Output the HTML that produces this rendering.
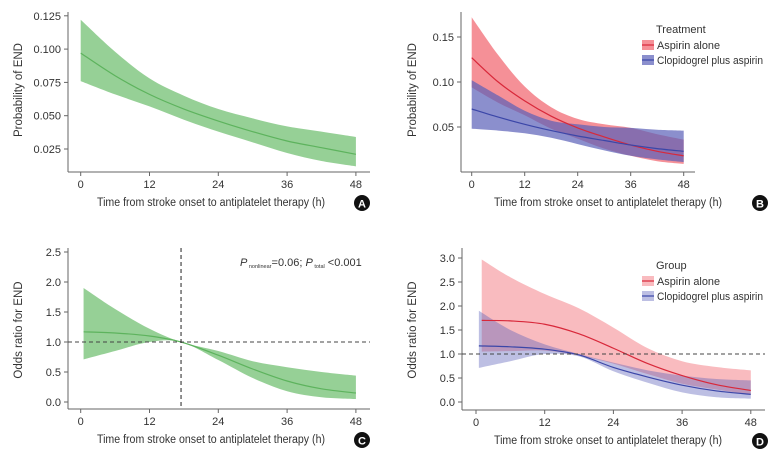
<!DOCTYPE html>
<html><head><meta charset="utf-8"><style>
body{margin:0;background:#fff;}
svg{display:block;font-family:"Liberation Sans",sans-serif;}
text{fill:#333;}
</style></head><body>
<svg id="fig" width="777" height="456" viewBox="0 0 777 456"></svg>
<script>
// Panel A
const hoursA=[0,6,12,18,24,30,36,42,48];
const meanA=[0.097,0.080,0.066,0.055,0.046,0.038,0.031,0.026,0.021];
const upA=[0.122,0.098,0.078,0.065,0.055,0.048,0.042,0.038,0.034];
const loA=[0.076,0.066,0.057,0.047,0.038,0.030,0.022,0.016,0.012];
const yTicksA=[0.025,0.050,0.075,0.100,0.125];
// Panel B
const hoursB=[0,6,12,18,24,30,36,42,48];
const redMeanB=[0.127,0.100,0.079,0.062,0.049,0.039,0.030,0.023,0.018];
const redUpB=[0.172,0.130,0.095,0.072,0.059,0.053,0.049,0.042,0.036];
const redLoB=[0.094,0.077,0.063,0.048,0.037,0.026,0.018,0.012,0.009];
const blueMeanB=[0.070,0.061,0.053,0.046,0.040,0.035,0.030,0.026,0.023];
const blueUpB=[0.102,0.085,0.068,0.057,0.053,0.050,0.049,0.047,0.046];
const blueLoB=[0.048,0.046,0.043,0.038,0.031,0.024,0.018,0.014,0.011];
const yTicksB=[0.05,0.10,0.15];
// Panel C
const hoursC=[0.5,6,12,17.5,24,30,36,42,48];
const meanC=[1.17,1.15,1.10,1.0,0.78,0.55,0.35,0.22,0.15];
const upC=[1.9,1.55,1.22,1.0,0.85,0.68,0.58,0.5,0.44];
const loC=[0.71,0.85,1.0,1.0,0.70,0.40,0.18,0.08,0.05];
const refHourC=17.5;
const yTicksC=[0.0,0.5,1.0,1.5,2.0,2.5];
// Panel D
const hoursDred=[1,6,12,18,24,30,36,42,48];
const redMeanD=[1.70,1.69,1.62,1.42,1.12,0.80,0.55,0.36,0.24];
const redUpD=[2.97,2.6,2.25,1.95,1.55,1.12,0.85,0.73,0.66];
const redLoD=[1.05,1.06,1.07,0.97,0.80,0.58,0.38,0.26,0.15];
const hoursDblue=[0.5,6,12,18,24,30,36,42,48];
const blueMeanD=[1.17,1.15,1.10,0.98,0.72,0.52,0.35,0.23,0.16];
const blueUpD=[1.9,1.5,1.2,1.0,0.82,0.66,0.55,0.48,0.45];
const blueLoD=[0.71,0.85,1.0,0.95,0.64,0.40,0.20,0.10,0.07];
const yTicksD=[0.0,0.5,1.0,1.5,2.0,2.5,3.0];
const xTicks=[0,12,24,36,48];

const NS="http://www.w3.org/2000/svg";
const svg=document.getElementById('fig');
function mk(tag,attrs,parent,txt){const e=document.createElementNS(NS,tag);for(const k in attrs)e.setAttribute(k,attrs[k]);if(txt!==undefined)e.textContent=txt;(parent||svg).appendChild(e);return e;}
function smooth(pts){let d='M'+pts[0][0]+','+pts[0][1];for(let i=0;i<pts.length-1;i++){const p0=pts[i-1]||pts[i],p1=pts[i],p2=pts[i+1],p3=pts[i+2]||p2;
 const c1=[p1[0]+(p2[0]-p0[0])/6,p1[1]+(p2[1]-p0[1])/6],c2=[p2[0]-(p3[0]-p1[0])/6,p2[1]-(p3[1]-p1[1])/6];
 d+=' C'+c1[0]+','+c1[1]+' '+c2[0]+','+c2[1]+' '+p2[0]+','+p2[1];}return d;}
function smoothCont(pts){return smooth(pts).replace(/^M/,'L');}

function panel(p){
 const g=mk('g',{});
 
 
 const X=h=>p.x0+(h)*p.xs, Y=v=>p.y0-(v-p.v0)*p.ys;
 p.X=X;p.Y=Y;
 const ya=mk('line',{x1:p.ax,y1:p.yTop,x2:p.ax,y2:p.ay,stroke:'#666','stroke-width':1},g);
 
 const xa=mk('line',{x1:p.ax,y1:p.ay,x2:p.xEnd,y2:p.ay,stroke:'#666','stroke-width':1},g);
 
 p.yt.forEach(v=>{mk('line',{x1:p.ax-4,y1:Y(v),x2:p.ax,y2:Y(v),stroke:'#666'},g);
  const t=mk('text',{x:p.ax-7,y:Y(v)+4,'text-anchor':'end','font-size':11},g,v.toFixed(p.dec));
  });
 xTicks.forEach(h=>{mk('line',{x1:X(h),y1:p.ay,x2:X(h),y2:p.ay+4,stroke:'#666'},g);
  const t=mk('text',{x:X(h),y:p.ay+16,'text-anchor':'middle','font-size':11},g,String(h));
  });
 const xt=mk('text',{x:p.xlx-114,y:p.ay+34,'font-size':11.5,textLength:228,lengthAdjust:'spacingAndGlyphs'},g,'Time from stroke onset to antiplatelet therapy (h)');
 
 const yt=mk('text',{x:0,y:0,'text-anchor':'middle','font-size':11.5,transform:`translate(${p.ylx},${p.yly}) rotate(-90)`},g,p.ytitle);
 
 const bc=mk('circle',{cx:p.bx,cy:p.ay+31,r:8,fill:'#111'},g);
 
 const bt=mk('text',{x:p.bx,y:p.ay+35.5,'text-anchor':'middle','font-size':11,'font-weight':'bold',style:'fill:#fff'},g,p.letter);
 
 return g;
}
function band(p,g,hrs,up,lo,fill,op,nm){
 const u=hrs.map((h,i)=>[p.X(h),p.Y(up[i])]), l=hrs.map((h,i)=>[p.X(h),p.Y(lo[i])]).reverse();
 const e=mk('path',{d:smooth(u)+' '+smoothCont(l)+' Z',fill:fill,'fill-opacity':op},g);
 
}
function line(p,g,hrs,vals,col,nm){
 const e=mk('path',{d:smooth(hrs.map((h,i)=>[p.X(h),p.Y(vals[i])])),fill:'none',stroke:col,'stroke-width':1.2},g);
 
}
function legend(g,x,y,title,items){
 const lg=mk('g',{},g);
 
 mk('text',{x:x+14,y:y,'font-size':11},lg,title);
 items.forEach((it,i)=>{const yy=y+15*(i+1);
  const s=mk('rect',{x:x,y:yy-8,width:12,height:10,fill:it[1],'fill-opacity':it[3]},lg);
  
  mk('line',{x1:x,y1:yy-3,x2:x+12,y2:yy-3,stroke:it[2],'stroke-width':1.2},lg);
  const t=mk('text',{x:x+15,y:yy+1,'font-size':11,textLength:it[4],lengthAdjust:'spacingAndGlyphs'},lg,it[0]);
  });
}
const GF='#7cc47c',GL='#5db35d',RF='#ef5560',RL='#d8283a',BF='#5a5fb8',BL='#3b46a8';
// A
const A={name:'panel-a',letter:'A',ax:68,ay:172,yTop:12,xEnd:370,x0:80.7,xs:68.8/12,y0:149,v0:0.025,ys:33.3/0.025,yt:yTicksA,dec:3,xlx:211,ylx:22,yly:90,ytitle:'Probability of END',bx:362};
let g=panel(A);band(A,g,hoursA,upA,loA,GF,0.8,'ci-band');line(A,g,hoursA,meanA,GL,'estimate-line');
// B
const B={name:'panel-b',letter:'B',ax:461,ay:172,yTop:12,xEnd:695,x0:471.7,xs:53/12,y0:127,v0:0.05,ys:45/0.05,yt:yTicksB,dec:2,xlx:608,ylx:416,yly:90,ytitle:'Probability of END',bx:760};
g=panel(B);
band(B,g,hoursB,redUpB,redLoB,RF,0.65,'aspirin-ci-band');
band(B,g,hoursB,blueUpB,blueLoB,BF,0.7,'clopidogrel-ci-band');
line(B,g,hoursB,redMeanB,RL,'aspirin-line');line(B,g,hoursB,blueMeanB,BL,'clopidogrel-line');
legend(g,642,33,'Treatment',[['Aspirin alone',RF,RL,0.65,63],['Clopidogrel plus aspirin',BF,BL,0.7,106]]);
// C
const C={name:'panel-c',letter:'C',ax:68,ay:409,yTop:248,xEnd:370,x0:80.7,xs:68.8/12,y0:402,v0:0,ys:30/0.5,yt:yTicksC,dec:1,xlx:211,ylx:22,yly:330,ytitle:'Odds ratio for END',bx:362};
g=panel(C);band(C,g,hoursC,upC,loC,GF,0.8,'ci-band');line(C,g,hoursC,meanC,GL,'or-line');
let r=mk('line',{x1:68,y1:C.Y(1),x2:370,y2:C.Y(1),stroke:'#444','stroke-dasharray':'4,3'},g);

r=mk('line',{x1:C.X(refHourC),y1:248,x2:C.X(refHourC),y2:409,stroke:'#222','stroke-dasharray':'4,3'},g);

const an=mk('text',{x:240,y:266,'font-size':11},g);

an.innerHTML='<tspan font-style="italic">P</tspan><tspan font-size="5.5" dy="2"> nonlinear</tspan><tspan dy="-2">=0.06; </tspan><tspan font-style="italic">P</tspan><tspan font-size="5.5" dy="2"> total</tspan><tspan dy="-2"> &lt;0.001</tspan>';
// D
const D={name:'panel-d',letter:'D',ax:462,ay:410,yTop:248,xEnd:765,x0:476,xs:68.7/12,y0:402,v0:0,ys:24/0.5,yt:yTicksD,dec:1,xlx:608,ylx:416,yly:330,ytitle:'Odds ratio for END',bx:760};
g=panel(D);
band(D,g,hoursDred,redUpD,redLoD,RF,0.4,'aspirin-ci-band');
band(D,g,hoursDblue,blueUpD,blueLoD,BF,0.4,'clopidogrel-ci-band');
line(D,g,hoursDred,redMeanD,RL,'aspirin-line');line(D,g,hoursDblue,blueMeanD,BL,'clopidogrel-line');
r=mk('line',{x1:462,y1:D.Y(1),x2:765,y2:D.Y(1),stroke:'#444','stroke-dasharray':'4,3'},g);

legend(g,642,269,'Group',[['Aspirin alone',RF,RL,0.4,63],['Clopidogrel plus aspirin',BF,BL,0.4,106]]);
</script>
</body></html>
